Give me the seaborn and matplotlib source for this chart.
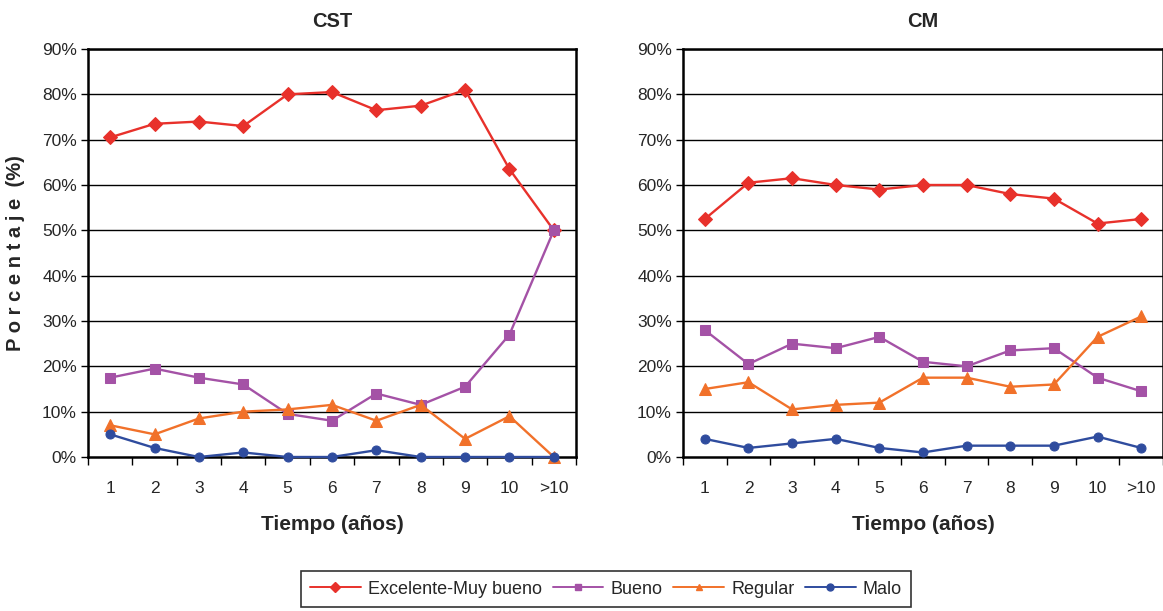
import numpy as np
import pandas as pd
import matplotlib
matplotlib.use("Agg")
import matplotlib.pyplot as plt
import seaborn as sns

# Time categories (years)
years = ["1", "2", "3", "4", "5", "6", "7", "8", "9", "10", ">10"]
series_names = ["Excelente-Muy bueno", "Bueno", "Regular", "Malo"]

# CST panel (%)
cst_excelente = [70.5, 73.5, 74.0, 73.0, 80.0, 80.5, 76.5, 77.5, 81.0, 63.5, 50.0]
cst_bueno = [17.5, 19.5, 17.5, 16.0, 9.5, 8.0, 14.0, 11.5, 15.5, 27.0, 50.0]
cst_regular = [7.0, 5.0, 8.5, 10.0, 10.5, 11.5, 8.0, 11.5, 4.0, 9.0, 0.0]
cst_malo = [5.0, 2.0, 0.0, 1.0, 0.0, 0.0, 1.5, 0.0, 0.0, 0.0, 0.0]

# CM panel (%)
cm_excelente = [52.5, 60.5, 61.5, 60.0, 59.0, 60.0, 60.0, 58.0, 57.0, 51.5, 52.5]
cm_bueno = [28.0, 20.5, 25.0, 24.0, 26.5, 21.0, 20.0, 23.5, 24.0, 17.5, 14.5]
cm_regular = [15.0, 16.5, 10.5, 11.5, 12.0, 17.5, 17.5, 15.5, 16.0, 26.5, 31.0]
cm_malo = [4.0, 2.0, 3.0, 4.0, 2.0, 1.0, 2.5, 2.5, 2.5, 4.5, 2.0]

y_ticks = [0, 10, 20, 30, 40, 50, 60, 70, 80, 90]

colors = {"Excelente-Muy bueno": "#E8312B", "Bueno": "#A452A6",
          "Regular": "#F1712A", "Malo": "#2F4C9E"}
markers = {"Excelente-Muy bueno": "D", "Bueno": "s", "Regular": "^", "Malo": "o"}
msizes = {"Excelente-Muy bueno": 7, "Bueno": 6.5, "Regular": 8, "Malo": 6.5}


def long_frame(panel, values):
    rows = []
    for name, vals in zip(series_names, values):
        for i, v in enumerate(vals):
            rows.append({"panel": panel, "serie": name, "pos": i, "valor": v})
    return pd.DataFrame(rows)


df_cst = long_frame("CST", [cst_excelente, cst_bueno, cst_regular, cst_malo])
df_cm = long_frame("CM", [cm_excelente, cm_bueno, cm_regular, cm_malo])

sns.set_theme(style="white")
plt.rcParams["font.family"] = ["Liberation Sans", "DejaVu Sans"]

fig = plt.figure(figsize=(11.63, 6.11), dpi=100)
ax1 = fig.add_axes([88 / 1163, 1 - 457 / 611, 488 / 1163, 408 / 611])
ax2 = fig.add_axes([683 / 1163, 1 - 457 / 611, 480 / 1163, 408 / 611])

for ax, df, title in [(ax1, df_cst, "CST"), (ax2, df_cm, "CM")]:
    for yv in y_ticks[1:]:
        ax.axhline(yv, color="black", lw=1.0, zorder=1)
    for name in series_names:
        sub = df[df["serie"] == name]
        sns.lineplot(data=sub, x="pos", y="valor", ax=ax, color=colors[name],
                     marker=markers[name], markersize=msizes[name],
                     markeredgecolor=colors[name], lw=1.7, sort=False,
                     label=name, legend=False, zorder=3, clip_on=False)
    ax.set_xlim(-0.5, len(years) - 0.5)
    ax.set_ylim(0, 90)
    ax.set_yticks(y_ticks)
    ax.set_yticklabels([f"{v}%" for v in y_ticks], fontsize=12.5)
    ax.set_xticks(range(len(years)))
    ax.set_xticklabels(years, fontsize=12.5)
    ax.set_xticks(np.arange(-0.5, len(years)), minor=True)
    ax.tick_params(axis="x", which="major", length=0, pad=17)
    ax.tick_params(axis="x", which="minor", length=6, width=1, color="black",
                   direction="out", bottom=True)
    ax.tick_params(axis="y", length=5, width=1, color="black", direction="out",
                   left=True, pad=3)
    for side in ["left", "bottom", "top", "right"]:
        ax.spines[side].set_color("black")
        ax.spines[side].set_linewidth(1.8)
    ax.set_title(title, fontsize=14.5, fontweight="bold", pad=16)
    ax.set_xlabel("Tiempo (años)", fontsize=15, fontweight="bold", labelpad=14)
    ax.set_ylabel("")

ax1.set_ylabel("P o r c e n t a j e  (%)", fontsize=14.5, fontweight="bold", labelpad=12)

handles = [plt.Line2D([], [], color=colors[n], marker=markers[n], markersize=5,
                      lw=1.4) for n in series_names]
leg = fig.legend(handles, series_names, loc="center", ncol=4,
                 bbox_to_anchor=(606 / 1163, 1 - 589 / 611), frameon=True,
                 fontsize=13, handlelength=2.8, handletextpad=0.4,
                 columnspacing=0.6, borderpad=0.5, fancybox=False)
leg.get_frame().set_edgecolor("black")
leg.get_frame().set_linewidth(1.2)

fig.savefig("out.png", dpi=100, facecolor="white")
